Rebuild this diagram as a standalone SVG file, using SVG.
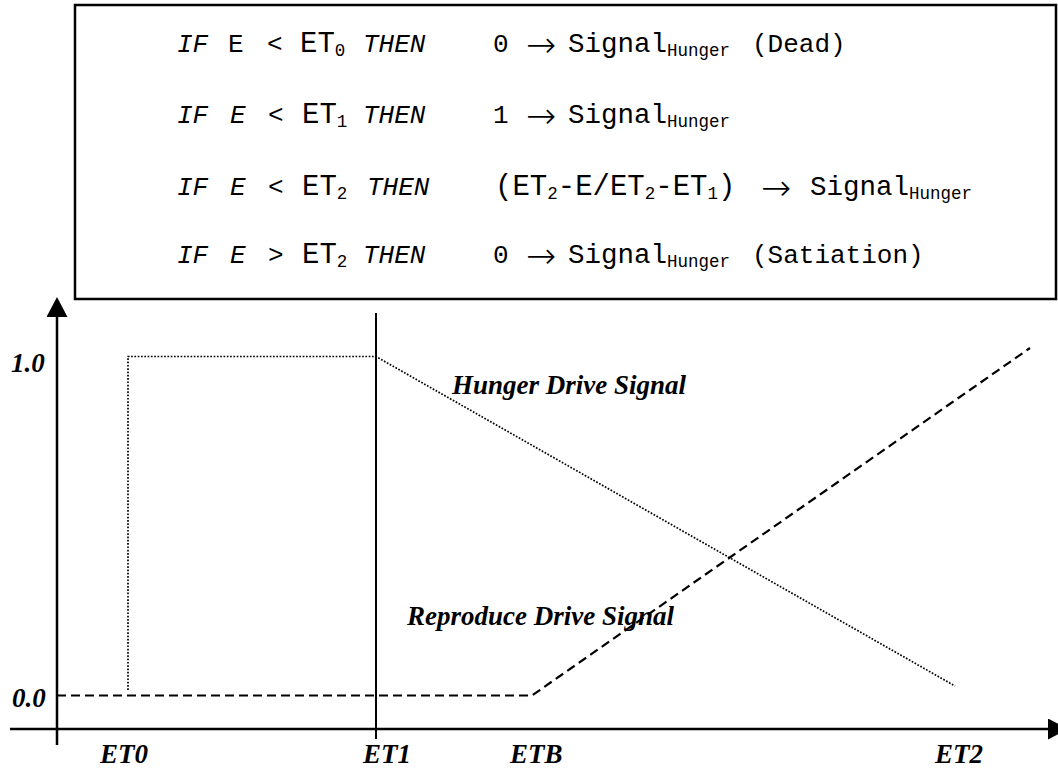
<svg xmlns="http://www.w3.org/2000/svg" width="1058" height="771" viewBox="0 0 1058 771">
  <style>
    .mono { font-family: "Liberation Mono", "Courier New", monospace; font-size: 26px; fill: #000; }
    .it { font-style: italic; }
    .et { font-size: 29px; }
    .sig { font-size: 27.5px; }
    .sub { font-size: 17.5px; }
    .arr { font-family: "DejaVu Sans", sans-serif; font-weight: 200; font-size: 36px; fill: #000; }
    .lbl { font-family: "Liberation Serif", "Times New Roman", serif; font-size: 27px; font-weight: bold; font-style: italic; fill: #000; }
    .axis { stroke: #000; stroke-width: 2.5; fill: none; }
    .guide { stroke: #000; stroke-width: 2; fill: none; }
    .hunger { stroke: #000; stroke-width: 1.7; stroke-dasharray: 1.7 1.6; fill: none; }
    .repro { stroke: #000; stroke-width: 2.2; stroke-dasharray: 9 5; fill: none; }
  </style>
  <defs>
    <marker id="head" viewBox="0 0 20 21" refX="0" refY="10.5" markerWidth="20" markerHeight="21" markerUnits="userSpaceOnUse" orient="auto">
      <path d="M0,0 L20,10.5 L0,21 Z" fill="#000"/>
    </marker>
  </defs>
  <rect width="1058" height="771" fill="#fff"/>

  <!-- Rule box -->
  <g id="rules">
    <rect x="75" y="5" width="981" height="294" fill="#fff" stroke="#000" stroke-width="2.5"/>
    <text class="mono" y="52">
      <tspan class="it" x="177">IF</tspan>
      <tspan x="228">E</tspan>
      <tspan x="267">&lt;</tspan>
      <tspan class="et" x="300">ET</tspan><tspan class="sub" dy="4">0</tspan>
      <tspan class="it" x="363" dy="-4">THEN</tspan>
      <tspan x="493">0</tspan>
      <tspan class="sig" x="568">Signal</tspan><tspan class="sub" dy="4">Hunger</tspan>
      <tspan x="752" dy="-4">(Dead)</tspan>
    </text>
    <text class="arr" x="526" y="57">→</text>
    <text class="mono" y="123">
      <tspan class="it" x="177">IF</tspan>
      <tspan class="it" x="230">E</tspan>
      <tspan x="268">&lt;</tspan>
      <tspan class="et" x="302">ET</tspan><tspan class="sub" dy="4">1</tspan>
      <tspan class="it" x="363" dy="-4">THEN</tspan>
      <tspan x="493">1</tspan>
      <tspan class="sig" x="568">Signal</tspan><tspan class="sub" dy="4">Hunger</tspan>
    </text>
    <text class="arr" x="526" y="128">→</text>
    <text class="mono" y="195">
      <tspan class="it" x="177">IF</tspan>
      <tspan class="it" x="230">E</tspan>
      <tspan x="268">&lt;</tspan>
      <tspan class="et" x="302">ET</tspan><tspan class="sub" dy="4">2</tspan>
      <tspan class="it" x="367" dy="-4">THEN</tspan>
      <tspan class="et" x="495">(ET</tspan><tspan class="sub" dy="4">2</tspan><tspan class="et" dy="-4">-E/ET</tspan><tspan class="sub" dy="4">2</tspan><tspan class="et" dy="-4">-ET</tspan><tspan class="sub" dy="4">1</tspan><tspan class="et" dy="-4">)</tspan>
      <tspan class="sig" x="810">Signal</tspan><tspan class="sub" dy="4">Hunger</tspan>
    </text>
    <text class="arr" x="761" y="200">→</text>
    <text class="mono" y="263">
      <tspan class="it" x="177">IF</tspan>
      <tspan class="it" x="230">E</tspan>
      <tspan x="268">&gt;</tspan>
      <tspan class="et" x="302">ET</tspan><tspan class="sub" dy="4">2</tspan>
      <tspan class="it" x="363" dy="-4">THEN</tspan>
      <tspan x="493">0</tspan>
      <tspan class="sig" x="568">Signal</tspan><tspan class="sub" dy="4">Hunger</tspan>
      <tspan x="752" dy="-4">(Satiation)</tspan>
    </text>
    <text class="arr" x="526" y="268">→</text>
  </g>

  <!-- Axes, guide and drive signal curves -->
  <g id="connectors">
    <line class="axis" x1="57" y1="745" x2="57" y2="317" marker-end="url(#head)"/>
    <line class="axis" x1="10" y1="729" x2="1048" y2="729" marker-end="url(#head)"/>
    <line class="guide" x1="376" y1="313" x2="376" y2="739"/>
    <polyline id="hunger-curve" class="hunger" points="128,690 128,356.5 376,356.5 955,686"/>
    <polyline id="reproduce-curve" class="repro" points="57,695.5 532,695.5 1030,348"/>
  </g>

  <!-- Axis and curve labels -->
  <g id="y-labels">
    <text class="lbl" x="11" y="372">1.0</text>
    <text class="lbl" x="12" y="707">0.0</text>
  </g>
  <g id="x-labels">
    <text class="lbl" x="100" y="763">ET0</text>
    <text class="lbl" x="363" y="763">ET1</text>
    <text class="lbl" x="510" y="763">ETB</text>
    <text class="lbl" x="935" y="763">ET2</text>
  </g>
  <g id="curve-labels">
    <text class="lbl" x="452" y="394">Hunger Drive Signal</text>
    <text class="lbl" x="407" y="625">Reproduce Drive Signal</text>
  </g>
</svg>
